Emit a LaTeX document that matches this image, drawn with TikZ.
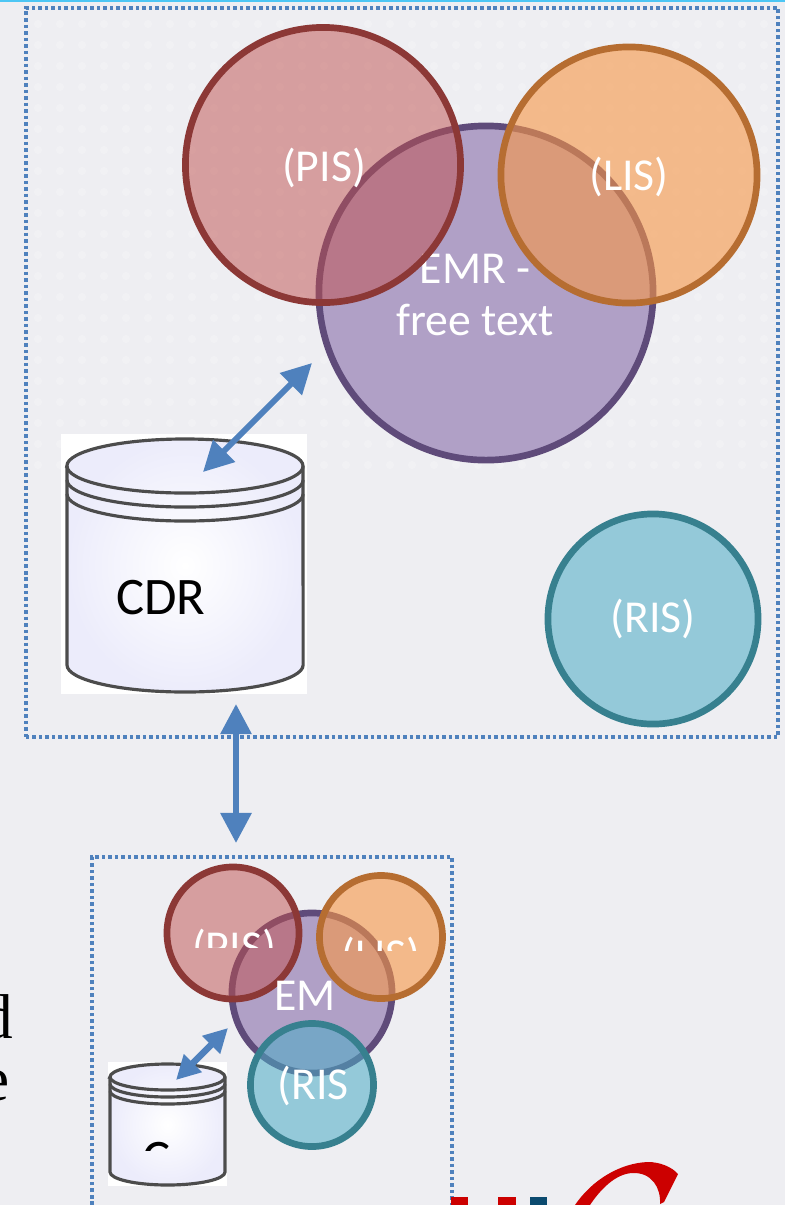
\documentclass[tikz,border=0pt]{standalone}
\usepackage{fontspec}
\setmainfont{Carlito}
\newfontfamily\serifpart{Liberation Serif}
\usetikzlibrary{arrows.meta}
\definecolor{pagebg}{HTML}{EEEEF2}
\definecolor{framecol}{HTML}{4F81BD}
\definecolor{pisfill}{HTML}{C0504D}
\definecolor{pisline}{HTML}{8C3836}
\definecolor{emrfill}{HTML}{B0A0C6}
\definecolor{emrline}{HTML}{5F4B7A}
\definecolor{lisfill}{HTML}{F79646}
\definecolor{lisline}{HTML}{B66D31}
\definecolor{risfill}{HTML}{4BACC6}
\definecolor{risline}{HTML}{37808F}
\definecolor{canfill}{HTML}{ECECFB}
\definecolor{logored}{HTML}{CC0000}
\definecolor{logoblue}{HTML}{0B4A6F}

\begin{document}
\begin{tikzpicture}[x=0.01cm, y=-0.01cm,
    sys/.style={circle, inner sep=0pt, line width=1.9pt},
    pis/.style={sys, draw=pisline, fill=pisfill, fill opacity=0.5},
    emr/.style={sys, draw=emrline, fill=emrfill},
    lis/.style={sys, draw=lisline, fill=lisfill, fill opacity=0.6},
    ris/.style={sys, draw=risline, fill=risfill, fill opacity=0.55},
    lab/.style={text=white, font=\fontsize{13}{14.8}\selectfont, align=center, inner sep=0pt},
    store/.style={inner sep=0pt, font=\fontsize{15}{18}\selectfont},
    frame/.style={draw=framecol, line width=1pt, dash pattern=on 1pt off 0.85pt},
    n/.style={{Triangle[length=0.3cm, width=0.3cm]}-{Triangle[length=0.3cm, width=0.3cm]}, draw=framecol, line width=1.7pt},
    nsmall/.style={{Triangle[length=0.24cm, width=0.24cm]}-{Triangle[length=0.24cm, width=0.24cm]}, draw=framecol, line width=1.9pt},
    rim/.style={draw=black!70, line width=0.9pt}]
    \useasboundingbox (0,0) rectangle (785,1205);
    \fill[pagebg] (0,0) rectangle (785,1205);
    \draw[cyan!70, line width=1pt] (0,0) -- (785,0);
    % dots
    \foreach \i in {0,...,33}
        \foreach \j in {0,...,21}
            \fill[white, opacity=0.2] (38+22*\i,24+21*\j) circle (0.04cm);
    % frames
    \node[frame, minimum width=7.52cm, minimum height=7.29cm, inner sep=0pt] (bigframe) at (402,372.5) {};
    \draw[frame] (92,1205) -- (92,857) -- (452,857) -- (452,1205);

    % big circles
    \node[emr, minimum size=3.34cm] (emr) at (486,293) {};
    \node[lab] (emrtext) at (475,295) {EMR -\\free text};
    \node[pis, minimum size=2.75cm] (pis) at (323,165) {};
    \node[lis, minimum size=2.56cm] (lis) at (629,175) {};
    \node[ris, minimum size=2.10cm] (ris) at (653,619) {};
    \node[lab] (pistext) at (324,168) {(PIS)};
    \node[lab] (listext) at (629,177) {(LIS)};
    \node[lab] (ristext) at (653,619) {(RIS)};

    % big store
    \fill[white] (61,434) rectangle (307,694);
    \path[rim, inner color=white, outer color=canfill] (67,466) -- (67,665) arc[start angle=180, end angle=360, x radius=1.18cm, y radius=0.27cm] -- (303,466) arc[start angle=0, end angle=180, x radius=1.18cm, y radius=0.27cm] -- cycle;
    \draw[rim] (67,466) arc[start angle=180, end angle=360, x radius=1.18cm, y radius=0.27cm];
    \draw[rim] (67,480) arc[start angle=180, end angle=360, x radius=1.18cm, y radius=0.27cm];
    \draw[rim] (67,494) arc[start angle=180, end angle=360, x radius=1.18cm, y radius=0.27cm];
    \node[store] (cdr) at (161,598) {CDR};

    % small circles
    \node[emr, minimum size=1.60cm] (em) at (312,993) {};
    \node[pis, minimum size=1.32cm] (pis2) at (233,933) {};
    \node[lis, minimum size=1.23cm] (lis2) at (381,937) {};
    \node[ris, minimum size=1.23cm] (ris2) at (312,1085) {};
    \begin{scope}
        \clip (150,900) rectangle (296,947);
        \node[lab] (pistext2) at (234,949) {(PIS)};
    \end{scope}
    \begin{scope}
        \clip (330,900) rectangle (430,950);
        \node[lab] (listext2) at (381,957) {(LIS)};
    \end{scope}
    \node[lab] (emtext) at (305,996) {EM};
    \node[lab] (ristext2) at (313,1086) {(RIS};

    % small store
    \fill[white] (108,1062) rectangle (227,1186);
    \path[rim, inner color=white, outer color=canfill] (110,1077) -- (110,1172) arc[start angle=180, end angle=360, x radius=0.575cm, y radius=0.13cm] -- (225,1077) arc[start angle=0, end angle=180, x radius=0.575cm, y radius=0.13cm] -- cycle;
    \draw[rim] (110,1077) arc[start angle=180, end angle=360, x radius=0.575cm, y radius=0.13cm];
    \draw[rim] (110,1084) arc[start angle=180, end angle=360, x radius=0.575cm, y radius=0.13cm];
    \draw[rim] (110,1091) arc[start angle=180, end angle=360, x radius=0.575cm, y radius=0.13cm];
    \begin{scope}
        \clip (130,1130) rectangle (180,1150);
        \node[store] (cdr2) at (157,1160) {C};
    \end{scope}

    % edges
    \coordinate (a1) at (203,472);
    \coordinate (a2) at (312,363);
    \coordinate (b1) at (236,704);
    \coordinate (b2) at (236,843);
    \coordinate (c1) at (176,1080);
    \coordinate (c2) at (228,1028);
    \draw[n] (a1) -- (a2);
    \draw[n] (b1) -- (b2);
    \draw[nsmall] (c1) -- (c2);

    % cut off at the edges
    \begin{scope}
        \clip (0,0) rectangle (785,1205);
        \node[inner sep=0pt, font=\serifpart\fontsize{18}{18}\selectfont, anchor=base east] (leftd) at (14,1038) {d};
        \node[inner sep=0pt, font=\serifpart\fontsize{18}{18}\selectfont, anchor=base east] (lefte) at (10,1100) {e};
        \fill[logored] (575,1205) .. controls (592,1180) and (620,1163) .. (648,1162) .. controls (660,1162) and (672,1167) .. (678,1174) -- (664,1202) -- (660,1204) .. controls (661,1188) and (652,1172) .. (632,1173) .. controls (615,1174) and (600,1190) .. (590,1205) -- cycle;
    \end{scope}
    \fill[logored] (451,1197) rectangle (468,1205);
    \fill[logored] (498,1197) rectangle (516,1205);
    \fill[logoblue] (530,1197) rectangle (547,1205);
\end{tikzpicture}
\end{document}
